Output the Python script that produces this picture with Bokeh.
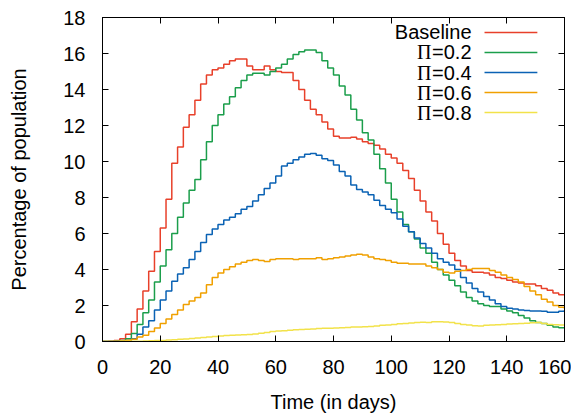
from bokeh.plotting import figure
from bokeh.models import Range1d, LinearAxis, SingleIntervalTicker, Label, CustomJSTickFormatter
from bokeh.embed import file_html
from bokeh.resources import INLINE

days = list(range(0, 161, 2))

baseline = [0.0, 0.02, 0.05, 0.15, 0.4, 1.1, 1.8, 2.8, 3.9, 5.0, 6.3, 7.9, 9.9, 10.8, 11.9, 12.6,
            13.4, 14.3, 14.8, 15.1, 15.2, 15.4, 15.6, 15.7, 15.7, 15.3, 15.1, 15.1, 15.3, 15.1, 15.0,
            14.95, 14.95, 14.5, 14.0, 13.4, 12.9, 12.6, 12.2, 11.8, 11.4, 11.3, 11.3, 11.35, 11.25,
            11.1, 11.0, 10.9, 10.7, 10.4, 10.2, 9.9, 9.5, 9.05, 8.4, 7.8, 7.2, 6.7, 6.0, 5.4, 4.9,
            4.5, 4.2, 3.95, 3.85, 3.85, 3.8, 3.7, 3.55, 3.5, 3.4, 3.3, 3.25, 3.2, 3.2, 3.1, 2.95,
            2.85, 2.7, 2.6, 2.55]

pi02 = [0.0, 0.0, 0.02, 0.05, 0.15, 0.45, 0.95, 1.6, 2.3, 3.3, 4.2, 5.1, 6.0, 6.9, 7.7, 8.4, 9.0,
        10.1, 11.1, 12.0, 12.6, 13.2, 13.6, 14.1, 14.5, 14.8, 14.9, 14.9, 14.8, 15.0, 15.2, 15.4,
        15.7, 15.95, 16.1, 16.2, 16.2, 16.05, 15.6, 15.2, 14.8, 14.2, 13.7, 12.9, 12.3, 11.6, 11.2,
        10.4, 9.6, 8.8, 7.9, 7.2, 6.5, 6.1, 5.7, 5.2, 4.9, 4.4, 4.0, 3.7, 3.4, 3.1, 2.75, 2.45,
        2.25, 2.1, 2.0, 1.95, 1.95, 1.8, 1.7, 1.6, 1.45, 1.3, 1.15, 1.05, 1.0, 0.9, 0.8, 0.77, 0.75]

pi04 = [0.0, 0.0, 0.01, 0.02, 0.05, 0.15, 0.4, 0.8, 1.15, 1.75, 2.3, 2.8, 3.35, 3.75, 4.1, 4.55,
        5.0, 5.5, 5.95, 6.25, 6.5, 6.75, 6.9, 7.1, 7.35, 7.5, 7.8, 8.15, 8.5, 8.8, 9.2, 9.75, 9.9,
        10.1, 10.25, 10.4, 10.45, 10.35, 10.15, 10.05, 9.8, 9.45, 9.2, 8.7, 8.45, 8.3, 8.15, 7.85,
        7.55, 7.35, 7.15, 6.8, 6.4, 6.1, 5.75, 5.45, 5.2, 4.9, 4.6, 4.4, 4.25, 4.0, 3.55, 3.25,
        2.95, 2.75, 2.5, 2.3, 2.1, 1.95, 1.85, 1.8, 1.75, 1.72, 1.7, 1.7, 1.68, 1.62, 1.62, 1.68,
        1.75]

pi06 = [0.0, 0.0, 0.01, 0.03, 0.07, 0.13, 0.25, 0.35, 0.55, 0.75, 1.0, 1.25, 1.5, 1.75, 2.05,
        2.25, 2.45, 2.7, 3.15, 3.55, 3.8, 4.0, 4.15, 4.3, 4.4, 4.5, 4.55, 4.5, 4.45, 4.55, 4.6,
        4.6, 4.6, 4.55, 4.6, 4.6, 4.6, 4.65, 4.55, 4.6, 4.65, 4.7, 4.75, 4.8, 4.85, 4.8, 4.7, 4.6,
        4.55, 4.5, 4.4, 4.35, 4.35, 4.3, 4.3, 4.3, 4.2, 4.1, 4.0, 3.85, 3.8, 3.9, 3.95, 4.0, 4.05,
        4.05, 4.05, 3.95, 3.85, 3.7, 3.55, 3.45, 3.3, 3.05, 2.8, 2.6, 2.35, 2.2, 2.0, 1.9, 1.8]

pi08 = [0.0, 0.0, 0.0, 0.01, 0.01, 0.02, 0.02, 0.03, 0.04, 0.05, 0.06, 0.08, 0.1, 0.12, 0.14,
        0.16, 0.19, 0.22, 0.25, 0.28, 0.31, 0.33, 0.35, 0.36, 0.37, 0.39, 0.42, 0.46, 0.5, 0.55,
        0.58, 0.6, 0.63, 0.65, 0.67, 0.68, 0.7, 0.72, 0.73, 0.74, 0.75, 0.76, 0.78, 0.8, 0.8, 0.82,
        0.84, 0.86, 0.9, 0.92, 0.95, 0.98, 1.0, 1.03, 1.05, 1.07, 1.06, 1.1, 1.1, 1.08, 1.05, 1.0,
        0.95, 0.92, 0.88, 0.86, 0.9, 0.92, 0.93, 0.95, 0.97, 0.98, 1.0, 1.02, 1.04, 1.05, 1.0,
        0.95, 0.93, 0.92, 0.9]

series_names = ["Baseline", "=0.2", "=0.4", "=0.6", "=0.8"]
series_prefix = ["", "\u03a0", "\u03a0", "\u03a0", "\u03a0"]
series_values = [baseline, pi02, pi04, pi06, pi08]
colors = ["#e8402a", "#1b9e4b", "#0a62b4", "#f0a000", "#f2e24a"]

x_ticks_interval = 20
y_ticks_interval = 2

FONT = "Liberation Sans"
FS = "20px"

p = figure(frame_width=462, frame_height=324,
           x_range=Range1d(0, 160), y_range=Range1d(0, 18),
           output_backend="svg", toolbar_location=None,
           min_border_left=102, min_border_right=7, min_border_top=17, min_border_bottom=57,
           x_axis_label="Time (in days)", y_axis_label="Percentage of population")
p.background_fill_color = "white"
p.border_fill_color = "white"
p.outline_line_color = "black"
p.outline_line_width = 1
p.grid.visible = False

p.xaxis.ticker = SingleIntervalTicker(interval=x_ticks_interval)
p.yaxis.ticker = SingleIntervalTicker(interval=y_ticks_interval)

for ax in [p.xaxis[0], p.yaxis[0]]:
    ax.major_tick_in = 6
    ax.major_tick_out = 0
    ax.minor_tick_line_color = None
    ax.axis_line_color = "black"
    ax.major_tick_line_color = "black"
    ax.major_label_text_font = FONT
    ax.major_label_text_font_size = FS
    ax.major_label_text_color = "black"
    ax.axis_label_text_font = FONT
    ax.axis_label_text_font_size = FS
    ax.axis_label_text_font_style = "normal"
    ax.axis_label_text_color = "black"

p.xaxis.major_label_standoff = 14
p.xaxis.axis_label_standoff = 14
p.yaxis.major_label_standoff = 13
p.yaxis.axis_label_standoff = 30

# mirror axes (ticks only, no labels)
for loc, tk in [("right", SingleIntervalTicker(interval=y_ticks_interval)),
                ("above", SingleIntervalTicker(interval=x_ticks_interval))]:
    ax = LinearAxis(ticker=tk, formatter=CustomJSTickFormatter(code="return ''"))
    ax.major_tick_in = 6
    ax.major_tick_out = 0
    ax.minor_tick_line_color = None
    ax.major_label_text_color = None
    ax.major_label_text_font_size = "1px"
    ax.major_label_standoff = 0
    ax.axis_line_color = "black"
    ax.major_tick_line_color = "black"
    p.add_layout(ax, loc)

for vals, col in zip(series_values, colors):
    p.step(days, vals, mode="after", line_color=col, line_width=1.5)

# legend (layout constants, in data units)
leg_text_x = 127.8
leg_line_x0 = 132.3
leg_line_x1 = 150.6
leg_rows = [17.17, 16.06, 14.94, 13.83, 12.72]

for name, pre, col, yy in zip(series_names, series_prefix, colors, leg_rows):
    p.add_layout(Label(x=leg_text_x, y=yy, text=name, text_align="right", text_baseline="middle",
                       text_font=FONT, text_font_size=FS, text_color="black"))
    if pre:
        p.add_layout(Label(x=leg_text_x, y=yy, x_offset=-40, text=pre, text_align="right",
                           text_baseline="middle", text_font="Liberation Serif",
                           text_font_size=FS, text_color="black"))
    p.line([leg_line_x0, leg_line_x1], [yy, yy], line_color=col, line_width=1.5)

open("out.html", "w").write(file_html(p, INLINE))
